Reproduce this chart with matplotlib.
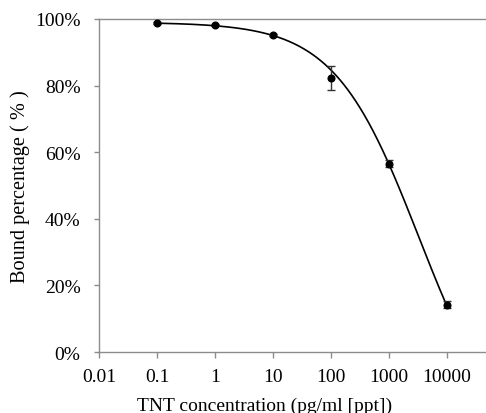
import numpy as np
import matplotlib
matplotlib.use("Agg")
from matplotlib import pyplot as plt
from matplotlib.ticker import FixedLocator, FixedFormatter

# measured points
conc = [0.1, 1, 10, 100, 1000, 10000]
bound = [98.8, 98.3, 95.2, 82.2, 56.6, 14.2]
err = [0.3, 0.3, 0.4, 3.6, 1.0, 1.1]

# 4-parameter logistic fit
fit_top = 99.0
fit_bottom = -30.0
fit_ic = 3300.0
fit_slope = 0.595

xticks = [0.01, 0.1, 1, 10, 100, 1000, 10000]
xticklabels = ['0.01', '0.1', '1', '10', '100', '1000', '10000']
yticks = [0, 20, 40, 60, 80, 100]
yticklabels = ['0%', '20%', '40%', '60%', '80%', '100%']

plt.rcParams['font.family'] = ['Liberation Serif', 'DejaVu Serif']
plt.rcParams['font.size'] = 14

fig = plt.figure(figsize=(4.86, 4.14), dpi=100)
ax = fig.add_axes([0.2043, 0.1473, 0.7982, 0.8044])

xs = np.logspace(np.log10(conc[0]), np.log10(conc[-1]), 300)
ys = fit_bottom + (fit_top - fit_bottom) / (1 + (xs / fit_ic) ** fit_slope)
ax.plot(xs, ys, color='black', lw=1.2, zorder=2)

ax.errorbar(conc, bound, yerr=err, fmt='o', color='black', ms=4.8,
            ecolor='#333333', elinewidth=1.0, capsize=3, capthick=1.0, zorder=3)

ax.set_xscale('log')
ax.set_xlim(0.01, 50000)
ax.set_ylim(0, 100)
ax.xaxis.set_major_locator(FixedLocator(xticks))
ax.xaxis.set_major_formatter(FixedFormatter(xticklabels))
ax.xaxis.set_minor_locator(FixedLocator([]))
ax.set_yticks(yticks)
ax.set_yticklabels(yticklabels)

gray = '#8c8c8c'
for side in ['left', 'bottom', 'top']:
    ax.spines[side].set_color(gray)
    ax.spines[side].set_linewidth(1.0)
ax.spines['right'].set_visible(False)
ax.tick_params(axis='x', direction='out', length=4.5, width=1, color=gray, pad=7)
ax.tick_params(axis='y', direction='out', length=3.5, width=1, color=gray, pad=10)

ax.set_xlabel('TNT concentration (pg/ml [ppt])', labelpad=8.5, x=0.427)
ax.set_ylabel('Bound percentage ( % )', labelpad=3.5, fontsize=14.6)

fig.savefig('out.png', dpi=100)
